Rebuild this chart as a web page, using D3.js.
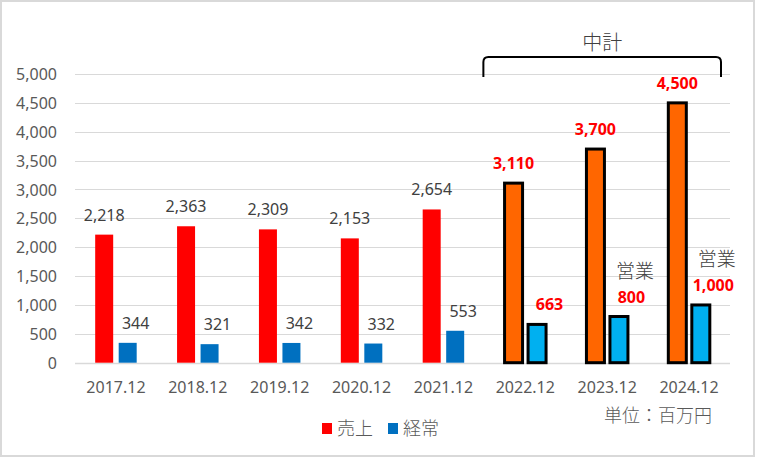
<!DOCTYPE html>
<html>
<head>
<meta charset="utf-8">
<script src="https://cdn.jsdelivr.net/npm/d3@7"></script>
<style>
  html, body { margin: 0; padding: 0; background: #fff; }
  svg { display: block; }
</style>
</head>
<body>
<svg id="chart" width="764" height="460"></svg>
<script>
// ---- data ----
const categories = ["2017.12","2018.12","2019.12","2020.12","2021.12","2022.12","2023.12","2024.12"];
const salesValues = [2218, 2363, 2309, 2153, 2654, 3110, 3700, 4500];
const ordinaryValues = [344, 321, 342, 332, 553, 663, 800, 1000];
const isPlan = [false, false, false, false, false, true, true, true];
const planNote = ["", "", "", "", "", "", "営業", "営業"];
const yTicks = [0, 500, 1000, 1500, 2000, 2500, 3000, 3500, 4000, 4500, 5000];
const legendLabels = ["売上", "経常"];
const bracketLabel = "中計";
const unitLabel = "単位：百万円";

// ---- layout ----
const svg = d3.select("#chart");
const numFont = "'Noto Sans', 'DejaVu Sans', sans-serif";
const jpFont = "'Noto Sans CJK JP', sans-serif";
const jpWeight = 300;
const fmt = d3.format(",");

// outer border
svg.append("rect").attr("x", 1).attr("y", 1).attr("width", 753).attr("height", 455)
  .attr("fill", "#fff").attr("stroke", "#D9D9D9").attr("stroke-width", 2);

const x = d3.scaleBand().domain(categories).range([75, 730]).paddingInner(0).paddingOuter(0);
const bw = x.bandwidth();
const x1 = d3.scaleBand().domain([0, 1]).range([bw / 2 - 20.75, bw / 2 + 20.75]).paddingInner(0.234).paddingOuter(0);
const y = d3.scaleLinear().domain([0, 5000]).range([362.7, 74]);

// gridlines
svg.append("g").selectAll("line").data(yTicks).join("line")
  .attr("x1", 75).attr("x2", 730)
  .attr("y1", d => Math.round(y(d)) + 0.5).attr("y2", d => Math.round(y(d)) + 0.5)
  .attr("stroke", "#D9D9D9").attr("stroke-width", d => d === 0 ? 1.5 : 1);

// y axis labels
const yAxis = d3.axisLeft(y).tickValues(yTicks).tickFormat(fmt).tickSize(0).tickPadding(0);
const yg = svg.append("g").attr("transform", "translate(57,0)").call(yAxis);
yg.select(".domain").remove();
yg.selectAll("text").attr("font-family", numFont).attr("font-size", 16).attr("fill", "#595959").attr("dy", "0.35em");

// x axis labels
const xAxis = d3.axisBottom(x).tickSize(0).tickPadding(0);
const xg = svg.append("g").attr("transform", "translate(0,382)").call(xAxis);
xg.select(".domain").remove();
xg.selectAll("text").attr("font-family", numFont).attr("font-size", 16).attr("fill", "#595959").attr("dy", "0.71em");

const rows = categories.map((c, i) => ({ c, s: salesValues[i], o: ordinaryValues[i], plan: isPlan[i], note: planNote[i] }));

// sales bars
svg.append("g").selectAll("rect").data(rows).join("rect")
  .attr("x", d => x(d.c) + x1(0))
  .attr("width", x1.bandwidth())
  .attr("y", d => y(d.s))
  .attr("height", d => y(0) - y(d.s))
  .attr("fill", d => d.plan ? "#FF6600" : "#FF0000")
  .attr("stroke", d => d.plan ? "#000" : "none")
  .attr("stroke-width", 3);

// ordinary bars
svg.append("g").selectAll("rect").data(rows).join("rect")
  .attr("x", d => x(d.c) + x1(1))
  .attr("width", x1.bandwidth())
  .attr("y", d => y(d.o))
  .attr("height", d => y(0) - y(d.o))
  .attr("fill", d => d.plan ? "#00B0F0" : "#0070C0")
  .attr("stroke", d => d.plan ? "#000" : "none")
  .attr("stroke-width", 3);

// sales labels
svg.append("g").selectAll("text").data(rows).join("text")
  .attr("x", d => x(d.c) + x1(0) + x1.bandwidth() / 2)
  .attr("y", d => y(d.s) - 14)
  .attr("text-anchor", "middle")
  .attr("font-family", numFont).attr("font-size", 16)
  .attr("font-weight", d => d.plan ? "bold" : "normal")
  .attr("fill", d => d.plan ? "#FF0000" : "#404040")
  .text(d => fmt(d.s));

// ordinary labels
svg.append("g").selectAll("text").data(rows).join("text")
  .attr("x", d => x(d.c) + x1(1) + x1.bandwidth() / 2 + (d.plan ? 12.5 : 8))
  .attr("y", d => y(d.o) - 14)
  .attr("text-anchor", "middle")
  .attr("font-family", numFont).attr("font-size", 16)
  .attr("font-weight", d => d.plan ? "bold" : "normal")
  .attr("fill", d => d.plan ? "#FF0000" : "#404040")
  .text(d => fmt(d.o));

// 営業 notes
svg.append("g").selectAll("text").data(rows.filter(d => d.note)).join("text")
  .attr("x", d => x(d.c) + x1(1) + x1.bandwidth() / 2 + 16)
  .attr("y", d => y(d.o) - 39)
  .attr("text-anchor", "middle")
  .attr("font-family", jpFont).attr("font-size", 19).attr("font-weight", jpWeight)
  .attr("fill", "#404040")
  .text(d => d.note);

// bracket over plan years
const planCats = categories.filter((c, i) => isPlan[i]);
const bx0 = x(planCats[0]) - 1, bx1 = x(planCats[planCats.length - 1]) + bw - 9;
const bTop = 57, bBot = 77, r = 5;
svg.append("path")
  .attr("d", `M${bx0},${bBot} L${bx0},${bTop + r} Q${bx0},${bTop} ${bx0 + r},${bTop} L${bx1 - r},${bTop} Q${bx1},${bTop} ${bx1},${bTop + r} L${bx1},${bBot}`)
  .attr("fill", "none").attr("stroke", "#000").attr("stroke-width", 2);
svg.append("text")
  .attr("x", (bx0 + bx1) / 2).attr("y", 50)
  .attr("text-anchor", "middle")
  .attr("font-family", jpFont).attr("font-size", 20).attr("font-weight", jpWeight).attr("fill", "#404040")
  .text(bracketLabel);

// unit label
svg.append("text").attr("x", 712).attr("y", 422).attr("text-anchor", "end")
  .attr("font-family", jpFont).attr("font-size", 18).attr("font-weight", jpWeight).attr("fill", "#595959")
  .text(unitLabel);

// legend
const legendColors = ["#FF0000", "#0070C0"];
const lg = svg.append("g").selectAll("g").data(legendLabels).join("g")
  .attr("transform", (d, i) => `translate(${322 + i * 66},0)`);
lg.append("rect").attr("x", 0).attr("y", 423).attr("width", 10).attr("height", 11)
  .attr("fill", (d, i) => legendColors[i]);
lg.append("text").attr("x", 15).attr("y", 435)
  .attr("font-family", jpFont).attr("font-size", 18).attr("font-weight", jpWeight).attr("fill", "#595959")
  .text(d => d);
</script>
</body>
</html>
